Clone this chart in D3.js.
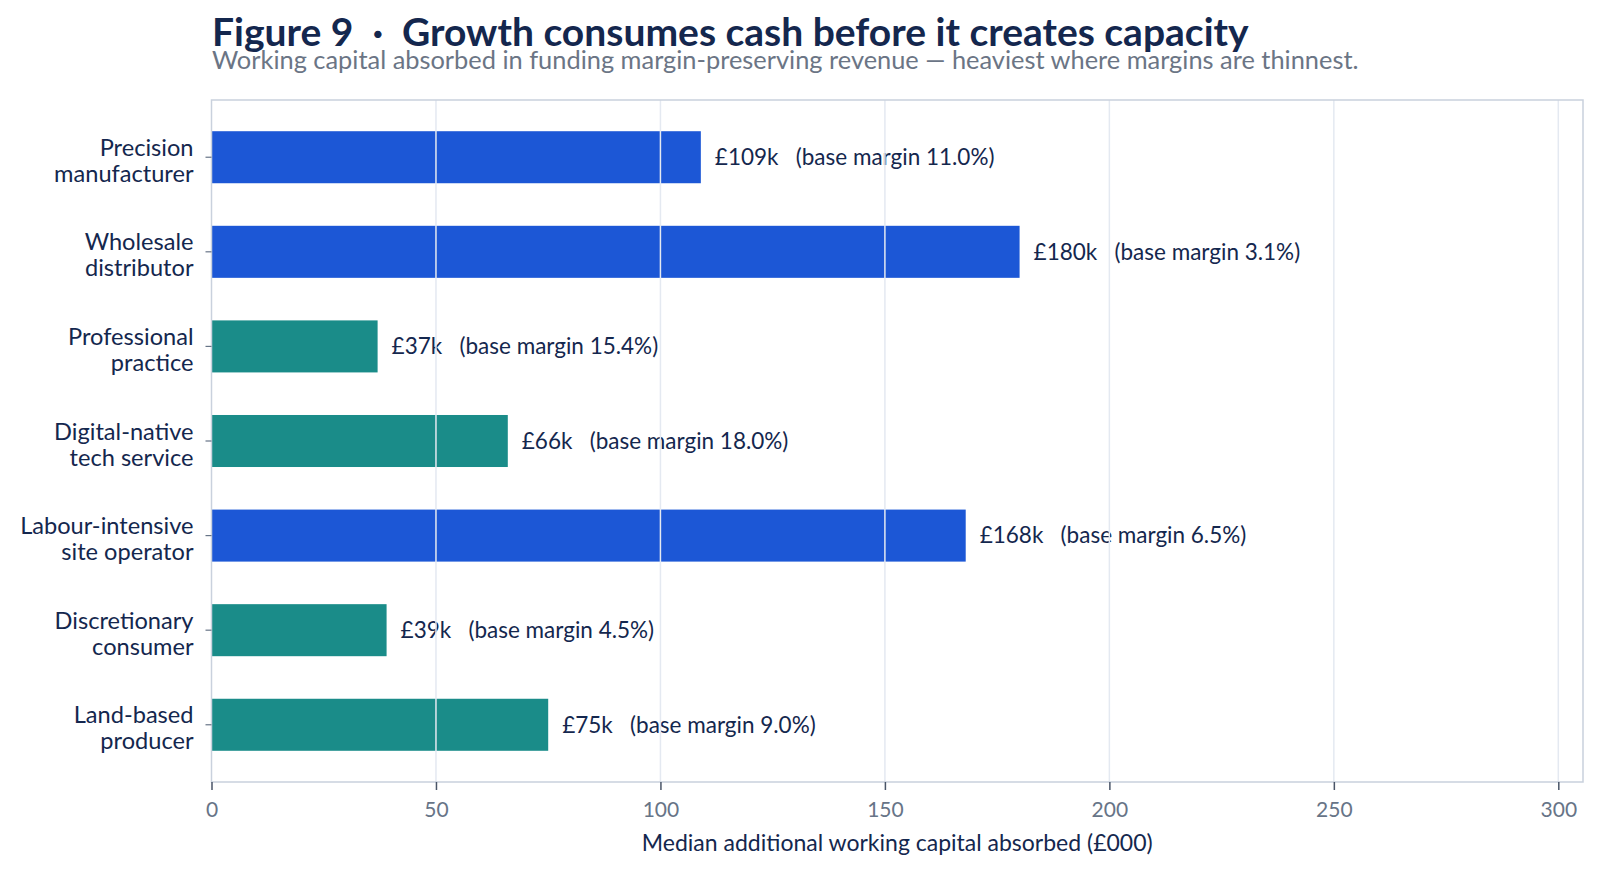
<!DOCTYPE html>
<html>
<head>
<meta charset="utf-8">
<script src="https://cdn.jsdelivr.net/npm/d3@7"></script>
<style>
  html, body { margin: 0; padding: 0; background: #fff; }
  svg { display: block; font-family: Lato, "Open Sans", sans-serif; }
  text { white-space: pre; }
</style>
</head>
<body>
<svg width="1600" height="872"></svg>
<script>
// data
const sectors = [
  ["Precision", "manufacturer"],
  ["Wholesale", "distributor"],
  ["Professional", "practice"],
  ["Digital-native", "tech service"],
  ["Labour-intensive", "site operator"],
  ["Discretionary", "consumer"],
  ["Land-based", "producer"]
]
const absorbed = [109, 180, 37, 66, 168, 39, 75]       // £000
const baseMargin = [11.0, 3.1, 15.4, 18.0, 6.5, 4.5, 9.0] // %
const highlighted = [true, true, false, false, true, false, false]
const xTicks = [0, 50, 100, 150, 200, 250, 300]

const svg = d3.select("svg"),
    margin = {top: 100, right: 17, bottom: 90, left: 211.5},
    width = 1600 - margin.left - margin.right,
    height = 872 - margin.top - margin.bottom

const blue = "#1c57d6", teal = "#1a8c89"
const navy = "#14274e", grey = "#677487"

const data = sectors.map((s, i) => ({
  lines: s, key: s.join(" "), value: absorbed[i], margin: baseMargin[i], hi: highlighted[i]
}))

const x = d3.scaleLinear().domain([0, 305.5]).range([0, width])
const y = d3.scaleBand()
  .domain(data.map(d => d.key))
  .range([0, height])
  .paddingInner(0.45)
  .paddingOuter(0.33)

// title block
svg.append("text")
  .attr("x", 212).attr("y", 46)
  .attr("fill", navy)
  .attr("font-size", 39).attr("font-weight", 700)
  .text("Figure 9  \u00b7  Growth consumes cash before it creates capacity")
svg.append("text")
  .attr("x", 212).attr("y", 69)
  .attr("fill", "#6b7585")
  .attr("font-size", 25.4)
  .text("Working capital absorbed in funding margin-preserving revenue \u2014 heaviest where margins are thinnest.")

const g = svg.append("g").attr("transform", `translate(${margin.left},${margin.top})`)

// bars
g.selectAll("rect.bar")
  .data(data)
  .join("rect")
    .attr("class", "bar")
    .attr("x", 0)
    .attr("y", d => y(d.key))
    .attr("width", d => x(d.value))
    .attr("height", y.bandwidth())
    .attr("fill", d => d.hi ? blue : teal)

// value labels
g.selectAll("text.val")
  .data(data)
  .join("text")
    .attr("class", "val")
    .attr("x", d => x(d.value) + 14)
    .attr("y", d => y(d.key) + y.bandwidth() / 2)
    .attr("dy", "0.35em")
    .attr("fill", navy)
    .attr("font-size", 22.5)
    .text(d => `£${d.value}k   (base margin ${d.margin.toFixed(1)}%)`)

// gridlines on top
g.append("g")
  .selectAll("line")
  .data(xTicks.filter(t => t > 0))
  .join("line")
    .attr("x1", d => x(d)).attr("x2", d => x(d))
    .attr("y1", 0).attr("y2", height)
    .attr("stroke", "#e4e9f1")
    .attr("stroke-width", 1.5)

// plot frame
g.append("rect")
  .attr("width", width).attr("height", height)
  .attr("fill", "none")
  .attr("stroke", "#c9d1dd")
  .attr("stroke-width", 1.5)

// x axis
const xAxis = g.append("g")
  .attr("transform", `translate(0,${height})`)
  .call(d3.axisBottom(x).tickValues(xTicks).tickSize(8).tickPadding(12))
xAxis.select(".domain").remove()
xAxis.selectAll(".tick line").attr("stroke", "#4a5568").attr("stroke-width", 1.5)
xAxis.selectAll(".tick text")
  .attr("fill", grey)
  .attr("font-size", 21)
  .attr("font-family", "Lato, sans-serif")

svg.append("text")
  .attr("x", margin.left + width / 2)
  .attr("y", 851)
  .attr("text-anchor", "middle")
  .attr("fill", navy)
  .attr("font-size", 23)
  .text("Median additional working capital absorbed (£000)")

// y axis
const yAxis = g.append("g")
  .call(d3.axisLeft(y).tickSize(6).tickFormat(""))
yAxis.select(".domain").remove()
yAxis.selectAll(".tick line").attr("stroke", "#677487").attr("stroke-width", 1.2)

g.selectAll("text.cat")
  .data(data)
  .join("text")
    .attr("class", "cat")
    .attr("text-anchor", "end")
    .attr("fill", navy)
    .attr("font-size", 23.6)
    .attr("transform", d => `translate(-18,${y(d.key) + y.bandwidth() / 2})`)
  .selectAll("tspan")
  .data(d => d.lines)
  .join("tspan")
    .attr("x", 0)
    .attr("y", (l, i) => i === 0 ? -1.5 : 24.5)
    .text(l => l)
</script>
</body>
</html>
